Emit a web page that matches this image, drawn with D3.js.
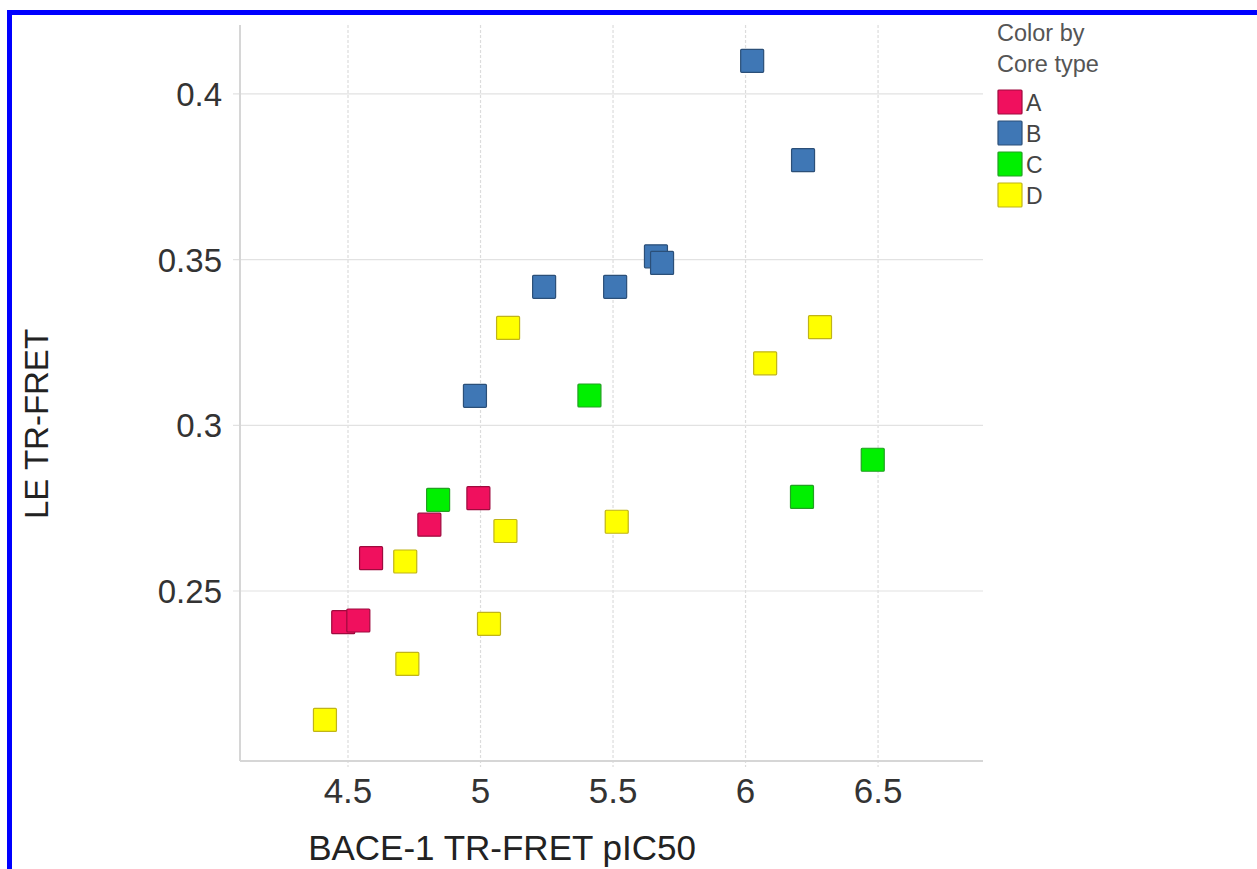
<!DOCTYPE html>
<html>
<head>
<meta charset="utf-8">
<script src="https://cdn.jsdelivr.net/npm/d3@7"></script>
<style>
  html, body { margin: 0; padding: 0; background: #fff; }
  #chart { width: 1257px; height: 869px; }
</style>
</head>
<body>
<div id="chart"></div>
<script>
// core types and their colours
const coreTypes = ["A", "B", "C", "D"];
const fillColors = ["#f0105e", "#3f77b5", "#00f000", "#ffff00"];
const strokeColors = ["#9e0a3e", "#2b4f78", "#22a022", "#c0b418"];

// BACE-1 TR-FRET pIC50 (x) and LE TR-FRET (y) per core type
const pic50A = [4.482, 4.539, 4.587, 4.807, 4.992];
const leA = [0.2406, 0.2411, 0.2599, 0.2700, 0.2780];
const pic50B = [6.025, 6.217, 5.662, 5.685, 5.240, 5.508, 4.979];
const leB = [0.4100, 0.3800, 0.3510, 0.3490, 0.3418, 0.3418, 0.3089];
const pic50C = [4.840, 5.411, 6.480, 6.213];
const leC = [0.2775, 0.3090, 0.2896, 0.2784];
const pic50D = [5.104, 6.074, 6.281, 5.094, 5.514, 4.716, 5.032, 4.724, 4.413];
const leD = [0.3294, 0.3187, 0.3296, 0.2681, 0.2709, 0.2589, 0.2401, 0.2280, 0.2111];

const xTicks = [4.5, 5, 5.5, 6, 6.5];
const yTicks = [0.25, 0.3, 0.35, 0.4];

const seriesX = [pic50A, pic50B, pic50C, pic50D];
const seriesY = [leA, leB, leC, leD];

const width = 1257, height = 869;
const plot = { left: 240, top: 25, right: 983, bottom: 761 };
const font = "'Liberation Sans', Arial, sans-serif";

const svg = d3.select("#chart").append("svg")
  .attr("width", width)
  .attr("height", height);

// blue frame (top and left only)
svg.append("rect").attr("x", 7).attr("y", 10).attr("width", width - 7).attr("height", 5).attr("fill", "#0000ff");
svg.append("rect").attr("x", 7).attr("y", 10).attr("width", 5).attr("height", height - 10).attr("fill", "#0000ff");

const x = d3.scaleLinear().domain([4.0925, 6.896]).range([plot.left, plot.right]);
const y = d3.scaleLinear().domain([0.1987, 0.4208]).range([plot.bottom, plot.top]);

// grid
svg.append("g").selectAll("line").data(xTicks).enter().append("line")
  .attr("x1", d => x(d)).attr("x2", d => x(d))
  .attr("y1", plot.top).attr("y2", plot.bottom + 6)
  .attr("stroke", "#dcdcdc").attr("stroke-width", 1.2)
  .attr("stroke-dasharray", "3,2");

svg.append("g").selectAll("line").data(yTicks).enter().append("line")
  .attr("x1", plot.left - 7).attr("x2", plot.right)
  .attr("y1", d => y(d)).attr("y2", d => y(d))
  .attr("stroke", "#e2e2e2").attr("stroke-width", 1.2);

// axis lines
svg.append("line")
  .attr("x1", plot.left).attr("x2", plot.left)
  .attr("y1", plot.top).attr("y2", plot.bottom)
  .attr("stroke", "#d6d6d6").attr("stroke-width", 2);
svg.append("line")
  .attr("x1", plot.left).attr("x2", plot.right)
  .attr("y1", plot.bottom).attr("y2", plot.bottom)
  .attr("stroke", "#d6d6d6").attr("stroke-width", 2);

// tick labels
svg.append("g").selectAll("text").data(xTicks).enter().append("text")
  .attr("x", d => x(d)).attr("y", 803)
  .attr("text-anchor", "middle")
  .style("font-family", font).style("font-size", "35px").attr("fill", "#333")
  .text(d => d);

svg.append("g").selectAll("text").data(yTicks).enter().append("text")
  .attr("x", 222).attr("y", d => y(d) + 12)
  .attr("text-anchor", "end")
  .style("font-family", font).style("font-size", "33px").attr("fill", "#333")
  .text(d => d);

// axis titles
svg.append("text")
  .attr("x", 502).attr("y", 860)
  .attr("text-anchor", "middle")
  .style("font-family", font).style("font-size", "35px").attr("fill", "#222")
  .text("BACE-1 TR-FRET pIC50");

svg.append("text")
  .attr("transform", "translate(48, 424) rotate(-90)")
  .attr("text-anchor", "middle")
  .style("font-family", font).style("font-size", "33px").attr("fill", "#222")
  .text("LE TR-FRET");

// points
const size = 23;
coreTypes.forEach((t, i) => {
  const pts = seriesX[i].map((v, j) => ({ x: v, y: seriesY[i][j] }));
  svg.append("g").selectAll("rect").data(pts).enter().append("rect")
    .attr("x", d => x(d.x) - size / 2)
    .attr("y", d => y(d.y) - size / 2)
    .attr("width", size).attr("height", size)
    .attr("rx", 1)
    .attr("fill", fillColors[i])
    .attr("stroke", strokeColors[i])
    .attr("stroke-width", 1.2);
});

// legend
const legend = svg.append("g");
legend.append("text").attr("x", 997).attr("y", 41)
  .style("font-family", font).style("font-size", "23.5px").attr("fill", "#555")
  .text("Color by");
legend.append("text").attr("x", 997).attr("y", 72)
  .style("font-family", font).style("font-size", "23.5px").attr("fill", "#555")
  .text("Core type");

const items = legend.selectAll("g.item").data(coreTypes).enter().append("g")
  .attr("class", "item")
  .attr("transform", (d, i) => `translate(998, ${90 + i * 31})`);
items.append("rect")
  .attr("width", 24).attr("height", 24).attr("rx", 1)
  .attr("fill", (d, i) => fillColors[i])
  .attr("stroke", (d, i) => strokeColors[i])
  .attr("stroke-width", 1.2);
items.append("text")
  .attr("x", 28).attr("y", 21)
  .style("font-family", font).style("font-size", "23px").attr("fill", "#444")
  .text(d => d);
</script>
</body>
</html>
